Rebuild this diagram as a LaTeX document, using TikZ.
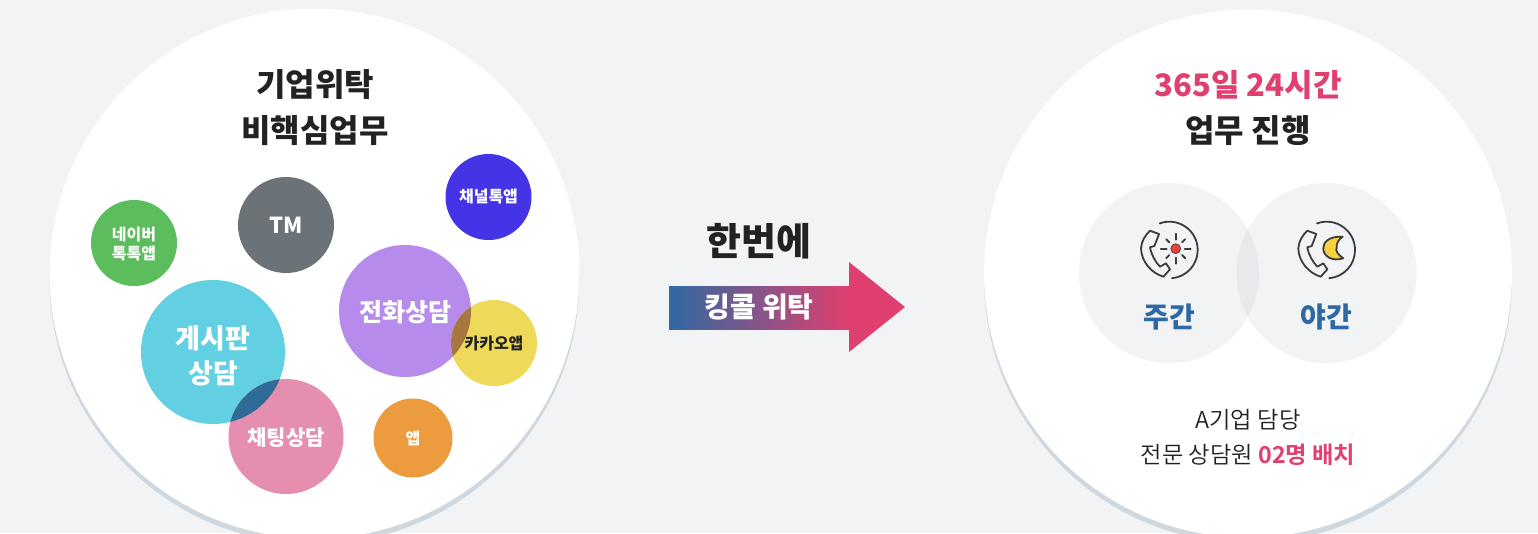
\documentclass[tikz,border=0pt]{standalone}
\usepackage{fontspec}
\setmainfont{Noto Sans CJK KR}
\newfontfamily\lightfont{Noto Sans CJK KR DemiLight}
\usetikzlibrary{positioning}
\definecolor{pagebg}{HTML}{F2F3F5}
\definecolor{shadowc}{HTML}{D0D8DF}
\definecolor{inkc}{HTML}{222222}
\definecolor{pinkc}{HTML}{E0406F}
\definecolor{bluec}{HTML}{2F69A3}
\definecolor{greenc}{HTML}{5BBD5B}
\definecolor{grayc}{HTML}{6B7378}
\definecolor{indigoc}{HTML}{4533E6}
\definecolor{purplec}{HTML}{B68BEC}
\definecolor{yellowc}{HTML}{EED958}
\definecolor{cyanc}{HTML}{62CFE3}
\definecolor{rosec}{HTML}{E58EAF}
\definecolor{orangec}{HTML}{EC9C3E}
\definecolor{iconc}{HTML}{3C3C3C}
\definecolor{sunc}{HTML}{E8403A}
\definecolor{moonc}{HTML}{F7D23E}
\definecolor{tealmix}{HTML}{2F6B97}
\definecolor{brownmix}{HTML}{A8773F}
\definecolor{greymix}{HTML}{E7E9EC}
\newcommand{\fsz}[1]{\bfseries\fontsize{#1}{#1}\selectfont}
\newcommand{\overlapfill}[5]{\begin{scope}
  \clip (#1.center) circle[radius=#2];
  \fill[#5] (#3.center) circle[radius=#4];
\end{scope}}
\tikzset{
  bigdisc/.style={circle,fill=white,inner sep=0pt,minimum size=#1},
  bubble/.style={circle,inner sep=0pt,minimum size=#1},
  tag/.style={align=center,text=white,font=\fsz{#1}},
  headline/.style={align=center,text=inkc,inner sep=0pt,font=\fsz{32}},
  iconline/.style={draw=iconc,line width=1.8pt,line cap=round,line join=round},
  phonedial/.pic={
    \draw[iconline] (-9.7,-26.6) .. controls (8.8,-33.3) and (28.3,-19.6) .. (28.3,0)
      .. controls (28.3,14.7) and (17.2,26.9) .. (2.6,28.2);
    \draw[iconline] (-19.4,-19.3) -- (-10.4,-16) -- (-15,-4) -- (-19.4,-2.7)
      .. controls (-18,5) and (-14,12) .. (-9.4,16.7) -- (-3.4,13.3) -- (0.6,19.3) -- (-6,26.7)
      .. controls (-18,23) and (-28,12) .. (-28.4,-1.7)
      .. controls (-28,-9) and (-24,-15) .. cycle;
  }
}
\begin{document}
\begin{tikzpicture}[x=1pt,y=-1pt]
\useasboundingbox (0,0) rectangle (1538,533);
\fill[pagebg] (0,0) rectangle (1538,533);
% big discs
\fill[shadowc] (314.5,279) circle[radius=265];
\fill[shadowc] (1248,279) circle[radius=264];
\node[bigdisc=530pt] (leftdisc) at (314.5,273.5) {};
\node[bigdisc=528pt] (rightdisc) at (1248,273.5) {};
% left bubbles
\node[bubble=86pt,fill=greenc] (naver) at (134,243) {};
\node[bubble=96pt,fill=grayc] (tm) at (286,225) {};
\node[bubble=86pt,fill=indigoc] (channel) at (488.5,197) {};
\node[bubble=132pt,fill=purplec] (phone) at (405,311) {};
\node[bubble=86pt,fill=yellowc] (kakao) at (494,343) {};
\node[bubble=144pt,fill=cyanc] (board) at (213,352) {};
\node[bubble=115pt,fill=rosec] (chat) at (286,436.5) {};
\node[bubble=79pt,fill=orangec] (app) at (413,438) {};
\overlapfill{board}{72}{chat}{57.5}{tealmix}
\overlapfill{phone}{66}{kakao}{43}{brownmix}
\node[tag=16] at (134,244) {네이버\\[3pt]톡톡앱};
\node[tag=22] at (286,225) {TM};
\node[tag=16] at (channel.center) {채널톡앱};
\node[tag=25] at (405,312) {전화상담};
\node[tag=16,text=inkc] at (kakao.center) {카카오앱};
\node[tag=27] at (213,356) {게시판\\[8pt]상담};
\node[tag=21] at (286,438) {채팅상담};
\node[tag=16] at (app.center) {앱};
\node[headline] (lefttitle) at (315,108) {기업위탁\\[14pt]비핵심업무};
% arrow
\node[minimum width=180pt,minimum height=43pt,inner sep=0pt,left color=bluec,right color=pinkc,
  text=white,font=\fsz{28}] (bar) at (759,307.5) {킹콜 위탁};
\fill[pinkc] (849,262) -- (905,307) -- (849,352) -- cycle;
\node[headline,font=\fsz{38},above=27pt of bar] (once) {한번에};
% right side
\node[headline] (righttitle) at (1248,108) {\textcolor{pinkc}{\fontsize{31}{32}\selectfont 365일 24시간}\\[14pt]업무 진행};
\node[bubble=180pt,fill=pagebg] (day) at (1169,273) {};
\node[bubble=180pt,fill=pagebg] (night) at (1326.5,273) {};
\overlapfill{day}{90}{night}{90}{greymix}
\node[tag=28,text=bluec] at (1169,317) {주간};
\node[tag=28,text=bluec] at (1326.5,317) {야간};
\pic at (1169.4,250) {phonedial};
\pic at (1326.7,250) {phonedial};
% sun
\filldraw[fill=sunc,draw=iconc,line width=.6pt] (1175.7,248.7) circle[radius=5];
\foreach \a in {0,90,180,270}
  \draw[iconline] (1175.7,248.7) ++(\a:9) -- ++(\a:6);
\foreach \a in {45,135,225,315}
  \draw[iconline] (1175.7,248.7) ++(\a:9) -- ++(\a:4.5);
% moon
\filldraw[fill=moonc,iconline] (1342.7,236.7) .. controls (1328,236) and (1323,243) .. (1323.3,248.3)
  .. controls (1323,256) and (1332,262) .. (1343.3,258.3)
  .. controls (1338,255) and (1335,250) .. (1336.7,247.7)
  .. controls (1336,243) and (1339,239) .. cycle;
\node[align=center,text=inkc,inner sep=0pt,font=\lightfont\fontsize{23.3}{35}\selectfont] (staff) at (1248,437)
  {A기업 담당\\전문 상담원 \textcolor{pinkc}{\bfseries 02명 배치}};
\end{tikzpicture}
\end{document}
